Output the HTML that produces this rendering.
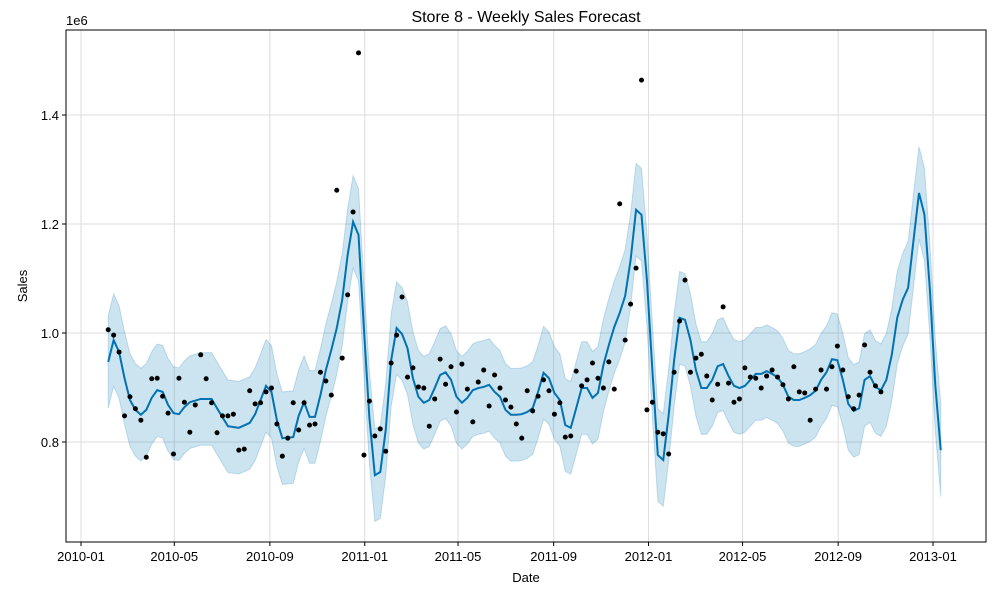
<!DOCTYPE html>
<html><head><meta charset="utf-8"><style>
body{margin:0;background:#fff}
svg text{font-family:"Liberation Sans",sans-serif;fill:#000}
</style></head><body>
<svg id="chart" width="1000" height="600" xmlns="http://www.w3.org/2000/svg">
<rect width="1000" height="600" fill="#fff"/>
<g id="grid"></g>
<g id="bandG"></g>
<g id="lineG"></g>
<g id="dots"></g>
<rect x="66" y="30" width="920" height="512" fill="none" stroke="#000" stroke-width="1"/>
<g id="axes"></g>
<text x="526" y="22" font-size="16" text-anchor="middle">Store 8 - Weekly Sales Forecast</text>
<text x="66" y="25" font-size="13">1e6</text>
<text x="526" y="582" font-size="13" text-anchor="middle">Date</text>
<text transform="translate(27,286) rotate(-90)" font-size="13" text-anchor="middle">Sales</text>
</svg>
<script>
const actualSales = [1.006,0.996,0.965,0.848,0.883,0.861,0.840,0.772,0.916,0.917,0.884,0.853,0.778,0.917,0.873,0.818,0.868,0.960,0.916,0.872,0.817,0.848,0.848,0.851,0.785,0.787,0.894,0.870,0.872,0.892,0.899,0.833,0.774,0.807,0.872,0.822,0.872,0.831,0.833,0.928,0.912,0.886,1.262,0.954,1.070,1.222,1.514,0.776,0.875,0.811,0.824,0.783,0.945,0.996,1.066,0.919,0.936,0.901,0.899,0.829,0.879,0.952,0.906,0.938,0.855,0.943,0.897,0.837,0.910,0.932,0.866,0.923,0.899,0.877,0.864,0.833,0.807,0.894,0.857,0.884,0.914,0.894,0.851,0.872,0.809,0.811,0.930,0.903,0.914,0.945,0.917,0.899,0.947,0.897,1.237,0.987,1.053,1.119,1.464,0.859,0.873,0.818,0.815,0.778,0.928,1.022,1.097,0.928,0.954,0.961,0.921,0.877,0.906,1.048,0.908,0.873,0.879,0.936,0.919,0.917,0.899,0.921,0.932,0.919,0.905,0.879,0.938,0.892,0.890,0.840,0.897,0.932,0.897,0.938,0.976,0.932,0.883,0.861,0.886,0.978,0.928,0.903,0.892];
const fcWeeks = [0,1,2,3,4,5,6,7,8,9,10,11,12,13,14,15,17,19,20,22,24,26,27,29,30,31,32,34,35,36,37,38,39,40,41,42,43,44,45,46,47,48,49,50,51,52,53,54,55,56,57,58,59,60,61,62,63,64,65,66,67,68,69,70,71,72,73,74,75,76,77,78,79,80,81,82,83,84,85,86,87,88,89,90,91,92,93,94,95,96,97,98,99,100,101,102,103,104,105,106,107,108,109,110,111,112,113,114,115,116,117,118,119,120,121,122,123,124,125,126,127,128,129,130,131,132,133,134,135,136,137,138,139,140,141,142,143,144,145,146,147,148,149,150,151,152,153];
const yhat = [0.947,0.987,0.965,0.917,0.877,0.859,0.850,0.859,0.881,0.895,0.892,0.868,0.853,0.851,0.864,0.873,0.879,0.879,0.862,0.829,0.826,0.835,0.851,0.903,0.892,0.840,0.807,0.809,0.848,0.873,0.846,0.846,0.886,0.932,0.969,1.009,1.061,1.143,1.204,1.180,1.006,0.844,0.739,0.745,0.822,0.950,1.009,0.998,0.972,0.917,0.883,0.872,0.877,0.899,0.923,0.928,0.914,0.883,0.872,0.881,0.895,0.899,0.901,0.905,0.892,0.883,0.859,0.850,0.850,0.851,0.855,0.862,0.892,0.927,0.917,0.890,0.877,0.831,0.826,0.862,0.899,0.899,0.881,0.890,0.941,0.978,1.011,1.037,1.068,1.134,1.226,1.217,1.097,0.932,0.776,0.767,0.850,0.950,1.028,1.024,0.987,0.932,0.899,0.899,0.914,0.939,0.943,0.921,0.903,0.899,0.903,0.914,0.925,0.925,0.930,0.925,0.919,0.905,0.883,0.877,0.877,0.881,0.886,0.894,0.914,0.928,0.952,0.950,0.914,0.870,0.857,0.862,0.914,0.921,0.901,0.895,0.914,0.960,1.028,1.061,1.083,1.171,1.257,1.217,1.079,0.903,0.785];
const bandHalf = 0.085;
const xTickLabels = ["2010-01","2010-05","2010-09","2011-01","2011-05","2011-09","2012-01","2012-05","2012-09","2013-01"];
const yTickValues = [0.8,1.0,1.2,1.4];

const NS="http://www.w3.org/2000/svg";
const start=new Date(Date.UTC(2010,0,1));
const firstWeek=new Date(Date.UTC(2010,1,5));
function dayOf(d){return (d-start)/86400000;}
function xScale(days){return 81+days*(852/1096);}
function xWeek(w){return xScale(dayOf(firstWeek)+7*w);}
function yScale(v){return 442-(v-0.8)*545;}
function mk(tag,attrs,parent){const e=document.createElementNS(NS,tag);for(const k in attrs)e.setAttribute(k,attrs[k]);parent.appendChild(e);return e;}
const grid=document.getElementById('grid'),axes=document.getElementById('axes');
xTickLabels.forEach(t=>{
  const [yy,mm]=t.split('-').map(Number);
  const x=xScale(dayOf(new Date(Date.UTC(yy,mm-1,1))));
  const g=mk('line',{x1:x,x2:x,y1:30,y2:542,stroke:'#ddd','stroke-width':1},grid);
  
  
  mk('line',{x1:x,x2:x,y1:542,y2:546,stroke:'#000'},axes);
  const tx=mk('text',{x:x,y:561,'font-size':13,'text-anchor':'middle'},axes);
  tx.textContent=t;
  
  
});
yTickValues.forEach(v=>{
  const y=yScale(v);
  const g=mk('line',{x1:66,x2:986,y1:y,y2:y,stroke:'#ddd','stroke-width':1},grid);
  
  
  mk('line',{x1:62,x2:66,y1:y,y2:y,stroke:'#000'},axes);
  const tx=mk('text',{x:59,y:y+5,'font-size':13,'text-anchor':'end'},axes);
  tx.textContent=v.toFixed(1);
  
  
});
let up=[],lo=[],ln=[];
fcWeeks.forEach((w,i)=>{const x=xWeek(w);up.push(x+','+yScale(yhat[i]+bandHalf));lo.unshift(x+','+yScale(yhat[i]-bandHalf));ln.push(x+','+yScale(yhat[i]));});
const band=mk('polygon',{points:up.concat(lo).join(' '),fill:'#0072B2','fill-opacity':0.2,stroke:'#0072B2','stroke-opacity':0.2},document.getElementById('bandG'));


const line=mk('polyline',{points:ln.join(' '),fill:'none',stroke:'#0072B2','stroke-width':2},document.getElementById('lineG'));


const dots=document.getElementById('dots');
actualSales.forEach((v,i)=>{
  const c=mk('circle',{cx:xWeek(i),cy:yScale(v),r:2.5,fill:'#000'},dots);
  
  
});
</script>
</body></html>
